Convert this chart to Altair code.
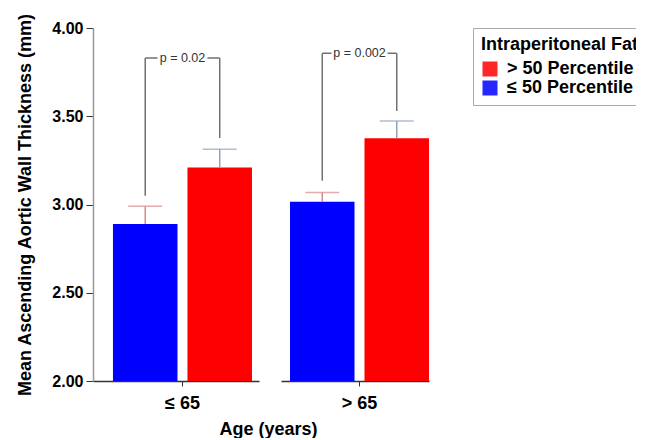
import altair as alt
import pandas as pd

# ---- data ----
age_groups = ["≤ 65", "≤ 65", "> 65", "> 65"]
fat_groups = ["≤ 50 Percentile", "> 50 Percentile", "≤ 50 Percentile", "> 50 Percentile"]
mean_thickness = [2.89, 3.21, 3.015, 3.375]
upper_error = [2.99, 3.313, 3.068, 3.473]
bracket_bottom = [3.05, 3.377, 3.135, 3.53]
bracket_top = [3.83, 3.83, 3.857, 3.857]
p_labels = ["p = 0.02", "p = 0.02", "p = 0.002", "p = 0.002"]
age_order = ["≤ 65", "> 65"]
fat_order = ["≤ 50 Percentile", "> 50 Percentile"]
legend_order = ["> 50 Percentile", "≤ 50 Percentile"]

df = pd.DataFrame({
    "age": age_groups,
    "fat": fat_groups,
    "mean": mean_thickness,
    "upper": upper_error,
    "bbot": bracket_bottom,
    "btop": bracket_top,
    "p": p_labels,
})

FONT = "Liberation Sans"
BASE = 2.0


def panel(age, first, pad_outer, align, label_w):
    base = alt.Chart(df).transform_filter(alt.datum.age == age)
    if first:
        xaxis = alt.Axis(labelAngle=0, labelFontSize=18, labelFontWeight="bold", labelColor="black",
                         labelFont=FONT, tickSize=5, tickColor="#333", domainColor="#333",
                         domainWidth=1.5, labelPadding=8, title="Age (years)", titleFont=FONT,
                         titleFontSize=18, titleFontWeight="bold", titleColor="black",
                         titleX=175, titlePadding=8)
        yaxis = alt.Axis(values=[2.0, 2.5, 3.0, 3.5, 4.0], format=".2f", labelFontSize=16,
                         labelFontWeight="bold", labelColor="black", labelFont=FONT,
                         tickSize=7, tickColor="#333", domainColor="#999", domainWidth=1.5,
                         grid=False, title="Mean Ascending Aortic Wall Thickness (mm)",
                         titleFont=FONT, titleFontSize=18, titleFontWeight="bold",
                         titleColor="black", titlePadding=17, labelPadding=3)
    else:
        xaxis = alt.Axis(labelAngle=0, labelFontSize=18, labelFontWeight="bold", labelColor="black",
                         labelFont=FONT, tickSize=5, tickColor="#333", domainColor="#333",
                         domainWidth=1.5, labelPadding=8, title=None)
        yaxis = None

    x = alt.X("age:N", sort=age_order,
              scale=alt.Scale(paddingOuter=pad_outer, paddingInner=0, align=align), axis=xaxis)
    xo = alt.XOffset("fat:N", sort=fat_order, scale=alt.Scale(paddingInner=0.134, paddingOuter=0))
    yscale = alt.Scale(domain=[2, 4], zero=False, nice=False)

    def Y(field):
        return alt.Y(field, scale=yscale, axis=yaxis)

    bars = base.mark_bar().encode(
        x=x, xOffset=xo,
        y=Y("mean:Q"),
        y2=alt.datum(BASE),
        color=alt.Color("fat:N", scale=alt.Scale(domain=legend_order, range=["#ff0000", "#0000ff"]),
                        legend=alt.Legend(title="Intraperitoneal Fat", orient="right", offset=44,
                                          titleFont=FONT, titleFontSize=18, titleFontWeight="bold",
                                          titleColor="black", labelFont=FONT, labelFontSize=18,
                                          labelFontWeight="bold", labelColor="black",
                                          symbolType="square", symbolSize=225, symbolStrokeWidth=0,
                                          symbolOpacity=0.85, rowPadding=1, titlePadding=6,
                                          labelOffset=8, padding=8, strokeColor="#aaa",
                                          titleLimit=400, labelLimit=400)),
    )

    errcolor = alt.condition(alt.datum.fat == "> 50 Percentile", alt.value("#8ea2ba"), alt.value("#d98a8a"))
    err_rule = base.mark_rule(strokeWidth=1.5).encode(
        x=x, xOffset=xo, y=Y("mean:Q"), y2="upper:Q", color=errcolor)
    err_cap = base.mark_tick(size=34, thickness=1.5).encode(
        x=x, xOffset=xo, y=Y("upper:Q"), color=errcolor)

    br_vert = base.mark_rule(color="#707070", strokeWidth=1.5).encode(
        x=x, xOffset=xo, y=Y("bbot:Q"), y2="btop:Q")
    br_horiz = base.mark_line(color="#707070", strokeWidth=1.5).encode(
        x=x, xOffset=xo, y=Y("btop:Q"))
    text_bg = base.transform_filter(alt.datum.fat == "> 50 Percentile").mark_tick(
        size=label_w, thickness=12, color="white", opacity=1).encode(
        x=x, y=Y("btop:Q"))
    txt = base.transform_filter(alt.datum.fat == "> 50 Percentile").mark_text(
        font=FONT, fontSize=12.5, color="#333").encode(
        x=x, y=Y("btop:Q"), text="p:N")

    return alt.layer(bars, err_rule, err_cap, br_vert, br_horiz, text_bg, txt).properties(
        width=166 if first else 148, height=353)


p1 = panel("≤ 65", True, 0.097, 0.74, 50)
p2 = panel("> 65", False, 0.0324, 1.0, 56)

chart = alt.hconcat(p1, p2, spacing=22, bounds="flush").resolve_scale(
    x="independent", xOffset="independent"
).properties(
    padding={"left": 8, "top": 4, "right": -12, "bottom": 0}
).configure_view(stroke=None).configure_axis(labelFont=FONT, titleFont=FONT)

chart.save("out.html", embed_options={"renderer": "svg", "actions": False})
